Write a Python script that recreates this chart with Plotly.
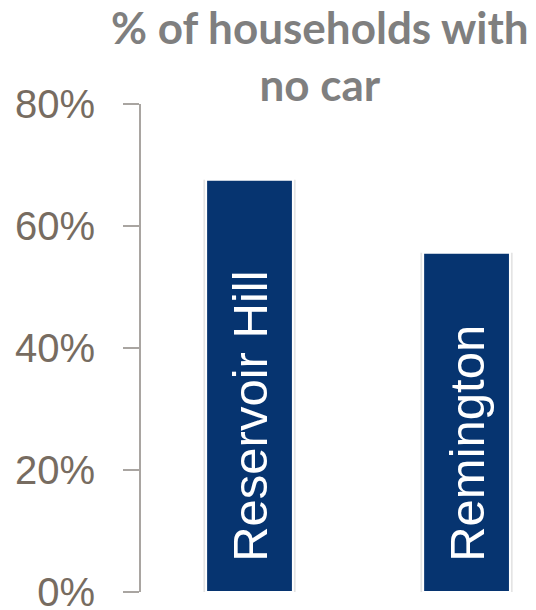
import plotly.graph_objects as go

neighborhoods = ["Reservoir Hill", "Remington"]
pct_no_car = [67.6, 55.6]
tick_values = [0, 20, 40, 60, 80]
tick_labels = ["0%", "20%", "40%", "60%", "80%"]
title_text = "% of households with<br>no car"

fig = go.Figure()
# soft shadow behind bars
fig.add_trace(go.Bar(
    x=neighborhoods,
    y=pct_no_car,
    width=0.425,
    marker=dict(color="#e4e4e4", line=dict(width=0)),
    hoverinfo="skip",
))
fig.add_trace(go.Bar(
    x=neighborhoods,
    y=pct_no_car,
    width=0.40,
    marker=dict(color="#063470", line=dict(color="white", width=2)),
    text=["\u00a0\u00a0" + n for n in neighborhoods],
    textposition="inside",
    insidetextanchor="start",
    textangle=-90,
    textfont=dict(family="Liberation Sans, Arial", size=49, color="white"),
    hoverinfo="skip",
))

fig.update_layout(
    width=536, height=610,
    margin=dict(l=141, r=0, t=104, b=18),
    plot_bgcolor="white", paper_bgcolor="white",
    showlegend=False,
    barmode="overlay",
    annotations=[dict(
        text=title_text, xref="paper", yref="paper",
        x=(320 - 141) / 395, y=1, yanchor="bottom", xanchor="center",
        yshift=-8, showarrow=False, align="center",
        font=dict(family="Lato", size=44, color="#7f7f7f", weight="bold"),
    )],
    xaxis=dict(
        range=[-0.5, 1.32], showticklabels=False, showline=False,
        showgrid=False, zeroline=False, ticks="", automargin=False,
    ),
    yaxis=dict(
        range=[0, 80], tickvals=tick_values, ticktext=tick_labels,
        showline=True, linecolor="#a9a5a1", linewidth=2,
        ticks="outside", ticklen=16, tickwidth=2, tickcolor="#a9a5a1",
        ticklabelstandoff=20, ticklabeloverflow="allow", automargin=False,
        tickfont=dict(family="Liberation Sans, Arial", size=40, color="#776c61"),
        showgrid=False, zeroline=False,
    ),
)

fig.write_html("out.html")
